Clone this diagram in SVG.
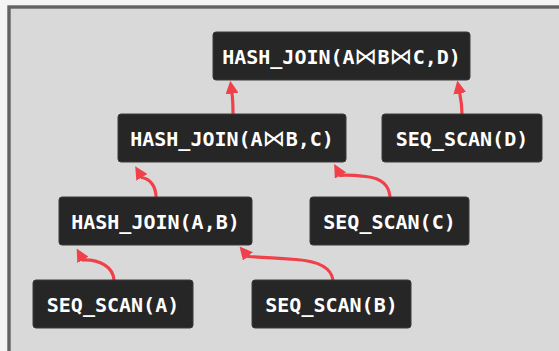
<svg xmlns="http://www.w3.org/2000/svg" width="559" height="351" viewBox="0 0 559 351">
  <defs>
    <style>
      .node rect { fill: #262626; stroke: #3a3a3a; stroke-width: 1; }
      .node text { fill: #ffffff; font-family: "DejaVu Sans Mono", "Liberation Mono", monospace; font-size: 20px; font-weight: bold; text-anchor: middle; }
      .node .bt { font-family: "DejaVu Sans", "Noto Sans", sans-serif; font-weight: normal; font-size: 23px; }
      .edge { fill: none; stroke: #f0414a; stroke-width: 3.2; stroke-linecap: butt; }
    </style>
    <marker id="ah" viewBox="0 0 13 13" refX="1" refY="6.5" markerWidth="13" markerHeight="13" markerUnits="userSpaceOnUse" orient="auto">
      <path d="M0,0 L13,6.5 L0,13 z" fill="#f0414a"/>
    </marker>
  </defs>
  <rect x="0" y="0" width="559" height="351" fill="#f4f4f4"/>
  <rect x="9" y="7" width="600" height="400" fill="#d9d9d9" stroke="#636363" stroke-width="3.4"/>

  <g id="connectors">
    <path class="edge" marker-end="url(#ah)" d="M233,114 C233,104 232.5,97 231.9,92.6"/>
    <path class="edge" marker-end="url(#ah)" d="M462,114 C462,104 460.5,97 459.6,92.4"/>
    <path class="edge" marker-end="url(#ah)" d="M156,197 C156,186 150,179 142,177.5 l-0.6,-1"/>
    <path class="edge" marker-end="url(#ah)" d="M390,197 C389,184 380,178 366,176.5 C356,175.5 346,174.5 340.5,175.5 l-0.5,-0.9"/>
    <path class="edge" marker-end="url(#ah)" d="M114,280 C113,267 100,259.5 83,260 l-0.5,-0.9"/>
    <path class="edge" marker-end="url(#ah)" d="M333,280 C331,266 316,261 296,259.5 C275,258 260,257 248,256.5 l-0.65,-0.76"/>
  </g>

  <g id="n-hj-abcd" class="node">
    <rect x="213" y="32" width="257" height="48" rx="3"/>
    <text x="341.5" y="63.5">HASH_JOIN(A<tspan class="bt">⋈</tspan>B<tspan class="bt">⋈</tspan>C,D)</text>
  </g>
  <g id="n-hj-abc" class="node">
    <rect x="118" y="114" width="228" height="48" rx="3"/>
    <text x="232" y="145.5">HASH_JOIN(A<tspan class="bt">⋈</tspan>B,C)</text>
  </g>
  <g id="n-scan-d" class="node">
    <rect x="382" y="114" width="160" height="48" rx="3"/>
    <text x="462" y="145.5">SEQ_SCAN(D)</text>
  </g>
  <g id="n-hj-ab" class="node">
    <rect x="59" y="197" width="193" height="48" rx="3"/>
    <text x="155.5" y="228.5">HASH_JOIN(A,B)</text>
  </g>
  <g id="n-scan-c" class="node">
    <rect x="310" y="197" width="159" height="48" rx="3"/>
    <text x="389.5" y="228.5">SEQ_SCAN(C)</text>
  </g>
  <g id="n-scan-a" class="node">
    <rect x="33" y="280" width="160" height="48" rx="3"/>
    <text x="113" y="311.5">SEQ_SCAN(A)</text>
  </g>
  <g id="n-scan-b" class="node">
    <rect x="252" y="280" width="159" height="48" rx="3"/>
    <text x="331.5" y="311.5">SEQ_SCAN(B)</text>
  </g>
</svg>
